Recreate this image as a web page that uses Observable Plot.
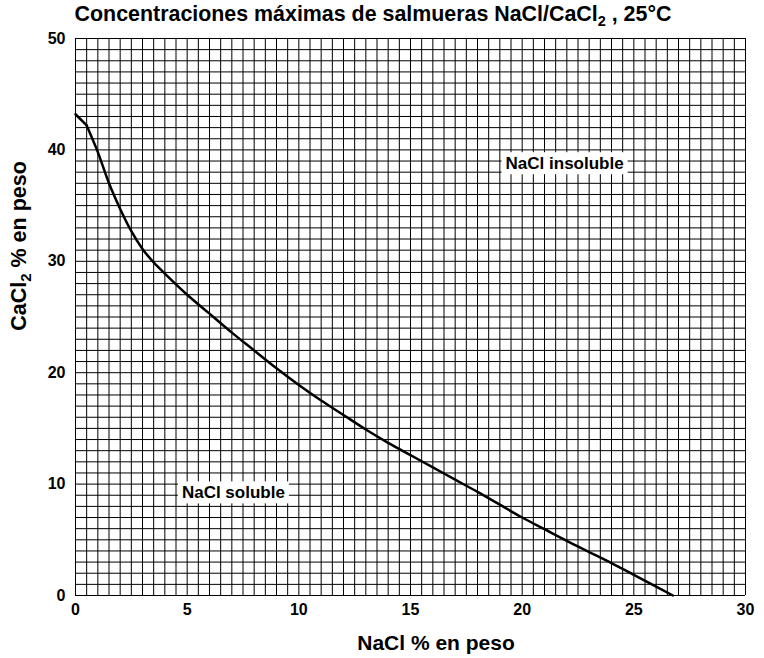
<!DOCTYPE html>
<html>
<head>
<meta charset="utf-8">
<script src="https://cdn.jsdelivr.net/npm/d3@7"></script>
<script src="https://cdn.jsdelivr.net/npm/@observablehq/plot@0.6"></script>
<style>
  body { margin: 0; background: #fff; font-family: "Liberation Sans", Arial, sans-serif; }
</style>
</head>
<body>
<div id="chart"></div>
<script>
// Solubility boundary: NaCl % (x) vs CaCl2 % (y)
const nacl  = [0, 0.5, 1, 1.5, 2, 2.5, 3, 3.5, 4, 5, 6, 7, 8, 9, 10, 11, 12, 13, 14, 15, 16, 17, 18, 19, 20, 21, 22, 23, 24, 25, 26, 26.75];
const cacl2 = [43.2, 42.2, 39.8, 37.0, 34.7, 32.7, 31.1, 29.9, 28.9, 27.0, 25.3, 23.6, 22.0, 20.4, 18.9, 17.5, 16.2, 14.9, 13.7, 12.6, 11.5, 10.4, 9.3, 8.15, 7.0, 5.95, 4.9, 3.9, 2.9, 1.85, 0.8, 0];

const xTicks = [0, 5, 10, 15, 20, 25, 30];
const yTicks = [0, 10, 20, 30, 40, 50];

const regionText = ["NaCl insoluble", "NaCl soluble"];
const regionX = [21.9, 7.07];
const regionY = [38.8, 9.25];

const titleMain = "Concentraciones máximas de salmueras NaCl/CaCl";
const titleSub = "2";
const titleEnd = " , 25°C";
const xLabel = "NaCl % en peso";
const yLabelMain = "CaCl";
const yLabelSub = "2";
const yLabelEnd = " % en peso";

const curve = nacl.map((x, i) => ({x, y: cacl2[i]}));
const curveHead = curve.filter(d => d.x <= 0.5);   // straight initial segment
const curveTail = curve.filter(d => d.x >= 0.5);   // smooth remainder
const regions = regionText.map((t, i) => ({t, x: regionX[i], y: regionY[i]}));
const xGrid = d3.range(0, 30.001, 0.5);
const yGrid = d3.range(0, 50.001, 1);

const FONT = '"Liberation Sans", Arial, sans-serif';

const chart = Plot.plot({
  width: 764,
  height: 658,
  marginTop: 38,
  marginBottom: 63,
  marginLeft: 75,
  marginRight: 19,
  style: {fontFamily: FONT, fontWeight: "bold", color: "black", background: "white"},
  x: {domain: [0, 30]},
  y: {domain: [0, 50]},
  marks: [
    Plot.ruleX(xGrid, {x: d => d, stroke: "black", strokeWidth: 1}),
    Plot.ruleY(yGrid, {y: d => d, stroke: "black", strokeWidth: 1}),
    Plot.line(curveHead, {x: "x", y: "y", stroke: "black", strokeWidth: 2.5, strokeLinecap: "round"}),
    Plot.line(curveTail, {x: "x", y: "y", stroke: "black", strokeWidth: 2.5, curve: "monotone-x", strokeLinecap: "round"}),
    Plot.axisX({ticks: xTicks, tickSize: 0, tickPadding: 8, label: null, fontSize: 16, fontWeight: "bold"}),
    Plot.axisY({ticks: yTicks, tickSize: 0, tickPadding: 10, label: null, fontSize: 16, fontWeight: "bold"}),
    Plot.text(regions, {x: "x", y: "y", text: "t", fontSize: 17, fontWeight: "bold", fill: "black"})
  ]
});

document.getElementById("chart").appendChild(chart);

const svg = d3.select(chart);

// white boxes behind region labels
svg.selectAll("text").filter(function() { return regionText.includes(this.textContent); }).each(function() {
  const b = this.getBBox();
  const tr = this.getAttribute("transform");
  const r = document.createElementNS("http://www.w3.org/2000/svg", "rect");
  r.setAttribute("x", b.x - 4);
  r.setAttribute("y", b.y - 1.5);
  r.setAttribute("width", b.width + 8);
  r.setAttribute("height", b.height + 3);
  r.setAttribute("fill", "white");
  r.setAttribute("stroke", "none");
  if (tr) r.setAttribute("transform", tr);
  this.parentNode.insertBefore(r, this);
});

// title
const title = svg.append("text")
  .attr("x", 373).attr("y", 21)
  .attr("text-anchor", "middle")
  .style("font", `bold 21.4px ${FONT}`)
  .attr("fill", "black");
title.append("tspan").text(titleMain);
title.append("tspan").attr("dy", 5).style("font-size", "14.5px").text(titleSub);
title.append("tspan").attr("dy", -5).text(titleEnd);

// x label
svg.append("text")
  .attr("x", 436).attr("y", 650)
  .attr("text-anchor", "middle")
  .style("font", `bold 21px ${FONT}`)
  .attr("fill", "black")
  .text(xLabel);

// y label
const yl = svg.append("text")
  .attr("transform", "translate(26,246) rotate(-90)")
  .attr("text-anchor", "middle")
  .style("font", `bold 21.5px ${FONT}`)
  .attr("fill", "black");
yl.append("tspan").text(yLabelMain);
yl.append("tspan").attr("dy", 5).style("font-size", "15px").text(yLabelSub);
yl.append("tspan").attr("dy", -5).text(yLabelEnd);
</script>
</body>
</html>
